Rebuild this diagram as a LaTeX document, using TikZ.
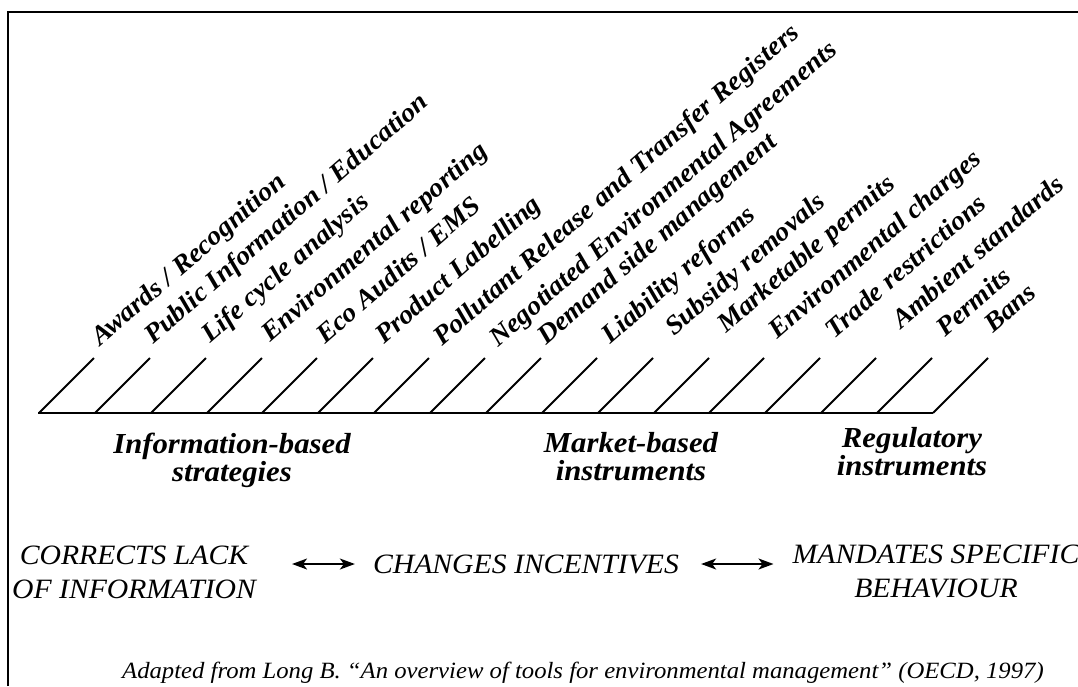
\documentclass[tikz,border=0pt]{standalone}
\usepackage{fontspec}
\setmainfont{Liberation Serif}[FakeStretch=1.06]
\usetikzlibrary{arrows.meta}
\tikzset{
  hatch/.style={line width=2pt},
  tool/.style={anchor=base west, rotate=41, inner sep=0pt, font=\fontsize{26.5}{26.5}\selectfont\bfseries\itshape},
  group/.style={align=center, inner sep=0pt, font=\fontsize{29}{28}\selectfont\bfseries\itshape},
  effect/.style={align=center, inner sep=0pt, font=\fontsize{28}{34}\selectfont\itshape},
  link/.style={{Stealth[length=15pt,width=11pt,inset=4pt]}-{Stealth[length=15pt,width=11pt,inset=4pt]}, line width=1.6pt},
}
\begin{document}
\begin{tikzpicture}[x=1pt,y=-1pt]
\useasboundingbox (0,0) rectangle (1078,686);
\draw[line width=2.5pt] (8,686) -- (8,12) -- (1078,12);
% base line with the hatching
\draw[line width=2.5pt] (38,413) -- (933,413);
\draw[hatch] (39,413) -- (94,358);
\draw[hatch] (95,413) -- (150,358);
\draw[hatch] (151,413) -- (206,358);
\draw[hatch] (207,413) -- (262,358);
\draw[hatch] (262,413) -- (317,358);
\draw[hatch] (318,413) -- (373,358);
\draw[hatch] (374,413) -- (429,358);
\draw[hatch] (430,413) -- (485,358);
\draw[hatch] (486,413) -- (541,358);
\draw[hatch] (542,413) -- (597,358);
\draw[hatch] (598,413) -- (653,358);
\draw[hatch] (654,413) -- (709,358);
\draw[hatch] (709,413) -- (764,358);
\draw[hatch] (765,413) -- (820,358);
\draw[hatch] (821,413) -- (876,358);
\draw[hatch] (877,413) -- (932,358);
\draw[hatch] (933,413) -- (988,358);
% tools
\node[tool] (awards) at (100,347) {Awards / Recognition};
\node[tool] (public) at (153,345) {Public Information / Education};
\node[tool] (lifecycle) at (210,344) {Life cycle analysis};
\node[tool] (reporting) at (270,343) {Environmental reporting};
\node[tool] (audits) at (325,345) {Eco Audits / EMS};
\node[tool] (labelling) at (384,345) {Product Labelling};
\node[tool] (prtr) at (442,347) {Pollutant Release and Transfer Registers};
\node[tool] (agreements) at (498,348) {Negotiated Environmental Agreements};
\node[tool] (demand) at (546,346) {Demand side management};
\node[tool] (liability) at (610,345) {Liability reforms};
\node[tool] (subsidy) at (674,337) {Subsidy removals};
\node[tool] (marketable) at (726,334) {Marketable permits};
\node[tool] (charges) at (777,340) {Environmental charges};
\node[tool] (trade) at (834,340) {Trade restrictions};
\node[tool] (ambient) at (901,330) {Ambient standards};
\node[tool] (permits) at (945,338) {Permits};
\node[tool] (bans) at (993,334) {Bans};
% groups of instruments
\node[group] (info) at (232,460) {Information-based\\strategies};
\node[group] (market) at (631,457) {Market-based\\instruments};
\node[group] (regulatory) at (912,452) {Regulatory\\instruments};
% what they do
\node[effect] (corrects) at (134,572) {CORRECTS LACK\\OF INFORMATION};
\node[effect] (changes) at (526,564) {CHANGES INCENTIVES};
\node[effect] (mandates) at (936,571) {MANDATES SPECIFIC\\BEHAVIOUR};
\draw[link, shorten <=36pt, shorten >=18pt] (corrects.east |- changes.center) -- (changes.west);
\draw[link, shorten <=22pt, shorten >=19pt] (changes.east) -- (mandates.west |- changes.center);
\node[anchor=base west, inner sep=0pt, font=\fontsize{23.3}{24}\selectfont\itshape] (source) at (122,678)
  {Adapted from Long B. ``An overview of tools for environmental management'' (OECD, 1997)};
\end{tikzpicture}
\end{document}
